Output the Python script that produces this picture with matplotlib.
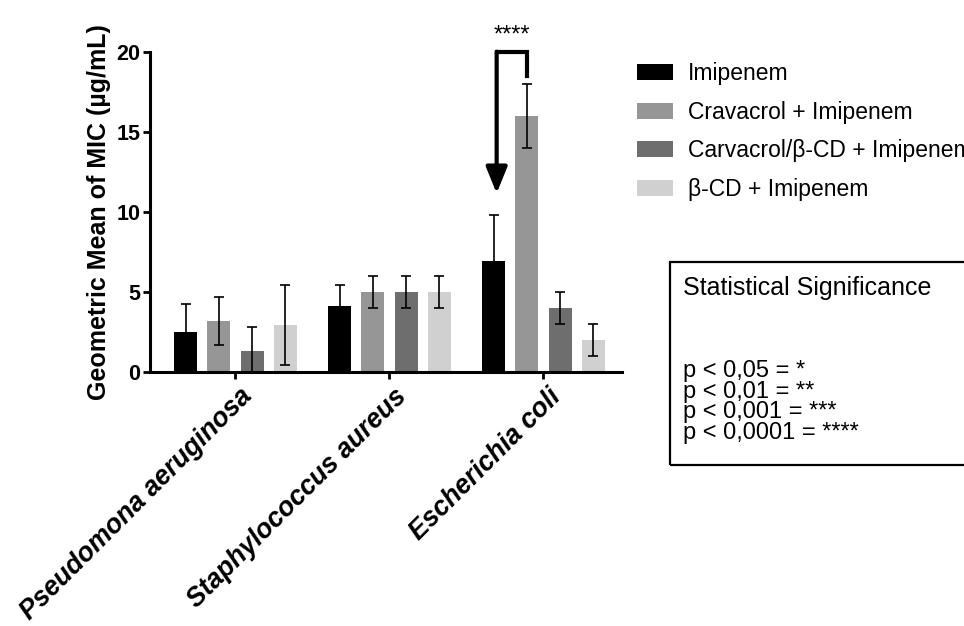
import numpy as np
import matplotlib
matplotlib.use("Agg")
import matplotlib.pyplot as plt
import matplotlib.transforms as mtransforms
from matplotlib.patches import Rectangle

plt.rcParams['font.family'] = ['Liberation Sans', 'DejaVu Sans']

# data
bacteria = ["Pseudomona aeruginosa", "Staphylococcus aureus", "Escherichia coli"]
treatments = ["Imipenem", "Cravacrol + Imipenem", "Carvacrol/\u03b2-CD + Imipenem", "\u03b2-CD + Imipenem"]
imipenem = [2.5, 4.1, 6.9]
imipenem_err = [1.75, 1.3, 2.9]
carvacrol = [3.2, 5.0, 16.0]
carvacrol_err = [1.5, 1.0, 2.0]
carv_bcd = [1.3, 5.0, 4.0]
carv_bcd_err = [1.5, 1.0, 1.0]
bcd = [2.95, 5.0, 2.0]
bcd_err = [2.5, 1.0, 1.0]
colors = ["#000000", "#969696", "#6e6e6e", "#d0d0d0"]

sig_label = "****"
sig_top = 20.0
sig_right_end = 18.5
sig_arrow_tip = 11.15

sig_title = "Statistical Significance"
sig_lines = ["p < 0,05 = *", "p < 0,01 = **", "p < 0,001 = ***", "p < 0,0001 = ****"]

W, H = 964, 626
fig = plt.figure(figsize=(W / 100, H / 100), dpi=100)
# axes box in pixels: left 150, right 622, y=0 at 371.7, y=20 at 51.7
ax = fig.add_axes([150 / W, (H - 371.7) / H, 472 / W, 320 / H])

x = np.arange(len(bacteria))
pitch = 0.216
width = 0.15
series = [(imipenem, imipenem_err), (carvacrol, carvacrol_err),
          (carv_bcd, carv_bcd_err), (bcd, bcd_err)]
bars = []
for i, (vals, errs) in enumerate(series):
    pos = x + (i - 1.5) * pitch
    b = ax.bar(pos, vals, width, color=colors[i], label=treatments[i], zorder=2)
    bars.append(b)
    ax.errorbar(pos, vals, yerr=errs, fmt='none', ecolor='black',
                elinewidth=1.2, capsize=3.5, capthick=1.2, zorder=3)

ax.set_xlim(-0.555, 2.51)
ax.set_ylim(0, 20)
ax.set_yticks([0, 5, 10, 15, 20])
ax.set_xticks(x)
ax.spines['top'].set_visible(False)
ax.spines['right'].set_visible(False)
ax.spines['left'].set_linewidth(2.2)
ax.spines['bottom'].set_linewidth(2.2)
ax.tick_params(axis='both', width=2, length=5, direction='out')
ax.tick_params(axis='y', pad=2)
for lab in ax.get_yticklabels():
    lab.set_fontsize(15.5)
    lab.set_fontweight('bold')

offset = mtransforms.ScaledTranslation(4 / 100, 0, fig.dpi_scale_trans)
ax.set_xticklabels(bacteria, rotation=45, ha='right', va='top',
                   rotation_mode='anchor', fontsize=19.2,
                   fontweight='bold', fontstyle='italic')
for lab in ax.get_xticklabels():
    lab.set_transform(lab.get_transform() + offset)

ax.set_ylabel("Geometric Mean of MIC (\u00b5g/mL)", fontsize=18,
              fontweight='bold', labelpad=4)

# significance bracket between Imipenem and Cravacrol + Imipenem for E. coli
xl = x[2] + (0 - 1.5) * pitch + 0.02
xr = x[2] + (1 - 1.5) * pitch
ax.plot([xr, xr, xl], [sig_right_end, sig_top, sig_top], color='black',
        lw=3, clip_on=False, solid_joinstyle='miter', zorder=4)
ax.annotate('', xy=(xl, sig_arrow_tip), xytext=(xl, sig_top),
            arrowprops=dict(arrowstyle='-|>,head_length=1.6,head_width=0.65',
                            lw=3, color='black', shrinkA=0, shrinkB=0,
                            mutation_scale=10), annotation_clip=False)
ax.text((xl + xr) / 2, sig_top + 0.3, sig_label, ha='center', va='bottom',
        fontsize=17, clip_on=False)

# legend
leg = fig.legend(handles=bars, labels=treatments, loc='upper left',
                 bbox_to_anchor=(628 / W, 1 - 53 / H), frameon=False,
                 fontsize=16.5, handlelength=1.55, handleheight=0.7,
                 handletextpad=0.65, labelspacing=0.68, borderaxespad=0)

# statistical significance box
fig.patches.append(Rectangle((670 / W, 1 - 465 / H), 300 / W, 203 / H,
                             transform=fig.transFigure, fill=False,
                             edgecolor='black', lw=1.6))
fig.text(683 / W, 1 - 295 / H, sig_title, fontsize=18,
         va='baseline', ha='left')
fig.text(683 / W, 1 - 360 / H, "\n".join(sig_lines), fontsize=17,
         va='top', ha='left', linespacing=0.92)

fig.savefig("out.png", dpi=100)
